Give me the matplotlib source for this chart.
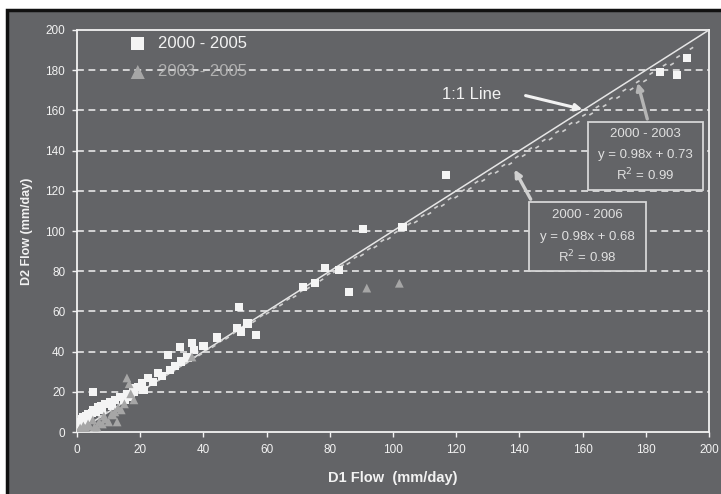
import matplotlib
matplotlib.use("Agg")
import matplotlib.pyplot as plt
from matplotlib.patches import Rectangle
import numpy as np

plt.rcParams['font.family'] = ['Liberation Sans', 'DejaVu Sans']

# ---- data ----
sq_x = [0.3, 0.5, 0.8, 1.2, 1.5, 2.0, 2.5, 3.0, 3.5, 4.0, 4.7, 5.0, 5.1, 6.0, 6.6, 7.5, 8.0, 9.0,
        10.4, 11.0, 12.0, 13.6, 15.0, 16.0, 17.0, 17.7, 18.0, 19.3, 20.6, 21.0, 22.5, 24.0, 25.6,
        27.0, 28.8, 29.5, 31.0, 32.6, 33.0, 35.0, 36.4, 37.0, 40.0, 44.3, 50.6, 51.3, 52.0, 54.0,
        56.6, 71.5, 75.3, 78.5, 83.0, 86.0, 90.5, 103.0, 116.8, 184.5, 189.8, 193.0]
sq_y = [1.0, 3.0, 5.0, 4.0, 6.5, 7.5, 5.0, 8.0, 9.0, 7.0, 9.5, 11.0, 19.9, 10.0, 12.4, 13.0, 11.0, 14.0,
        14.9, 13.0, 16.0, 17.4, 16.0, 19.0, 17.5, 21.9, 20.0, 22.4, 24.4, 21.0, 26.9, 25.0, 29.4,
        28.0, 38.3, 31.0, 33.0, 42.4, 35.0, 37.0, 44.2, 40.8, 42.8, 47.0, 51.7, 62.2, 50.0, 54.0,
        48.3, 72.0, 74.0, 81.6, 80.6, 69.7, 101.0, 102.0, 127.9, 179.0, 177.6, 186.0]

tri_x = [0.5, 1.0, 1.5, 2.0, 2.5, 3.0, 3.5, 4.0, 5.0, 5.5, 6.3, 7.0, 8.0, 8.5, 9.0, 10.0, 11.0,
         11.4, 12.0, 12.7, 13.0, 14.0, 15.0, 15.8, 16.5, 17.0, 18.0, 36.4, 91.7, 102.0]
tri_y = [0.5, 2.0, 1.0, 3.0, 2.0, 1.5, 4.0, 3.0, 6.0, 2.5, 2.5, 5.0, 4.0, 8.0, 6.5, 5.0, 9.0,
         8.5, 10.0, 5.0, 12.0, 11.0, 14.0, 26.9, 24.0, 19.0, 16.0, 37.3, 71.6, 74.0]

# trend line coefficients (slope, intercept)
fit1 = (0.968, 0.73)   # 2000 - 2003
fit2 = (0.978, 0.68)   # 2000 - 2006

x_ticks = [0, 20, 40, 60, 80, 100, 120, 140, 160, 180, 200]
y_ticks = [0, 20, 40, 60, 80, 100, 120, 140, 160, 180, 200]

BG = '#636467'
FG = '#f2f2f2'

fig = plt.figure(figsize=(7.21, 4.94), dpi=100)
fig.patch.set_facecolor('white')
frame = Rectangle((7 / 721, -0.05), 1.1, 484 / 494 + 0.05, transform=fig.transFigure,
                  facecolor=BG, edgecolor='#111111', lw=2.5, zorder=0)
fig.add_artist(frame)

ax = fig.add_axes([77 / 721, 1 - 432 / 494, 632 / 721, 402 / 494])
ax.set_facecolor(BG)
ax.set_xlim(0, 200)
ax.set_ylim(0, 200)
ax.set_xticks(x_ticks)
ax.set_yticks(y_ticks)

for s in ax.spines.values():
    s.set_color(FG)
    s.set_linewidth(1.3)

ax.tick_params(colors=FG, labelcolor=FG, labelsize=8.5, direction='out', length=3.5, width=1.0, pad=5)
for y in y_ticks[1:-1]:
    ax.axhline(y, color=FG, lw=1.1, linestyle=(0, (4.5, 3.0)), zorder=1)

ax.set_xlabel('D1 Flow  (mm/day)', color=FG, fontsize=10.5, fontweight='bold', labelpad=11)
ax.set_ylabel('D2 Flow (mm/day)', color=FG, fontsize=9, fontweight='bold', labelpad=9)

# 1:1 line
ax.plot([0, 200], [0, 200], color='#e6e6e6', lw=1.1, zorder=3)
# trend lines
xx = np.array([0, 195])
ax.plot(xx, fit1[0] * xx + fit1[1], color='#cfcfcf', lw=1.2, linestyle=(0, (2.5, 7)), zorder=3)
ax.plot(xx, fit2[0] * xx + fit2[1], color='#cfcfcf', lw=1.2, linestyle=(4, (2.5, 7)), zorder=3)

ax.scatter(sq_x, sq_y, marker='s', s=36, color='#f4f4f4', edgecolors='none', zorder=4, label='2000 - 2005')
ax.scatter(tri_x, tri_y, marker='^', s=40, color='#a6a6a6', edgecolors='none', zorder=5, label='2003 - 2005')

leg = ax.legend(loc='upper left', bbox_to_anchor=(0.083, 0.985), frameon=False, fontsize=12,
                handlelength=1.0, handletextpad=0.7, labelspacing=0.8, borderpad=0,
                borderaxespad=0, markerscale=1.6)
leg.get_texts()[0].set_color(FG)
leg.get_texts()[1].set_color('#b0b0b0')

# 1:1 label
ax.text(115.5, 167.7, '1:1 Line', color=FG, fontsize=12, va='center', ha='left')
ax.annotate('', xy=(160.8, 160.2), xytext=(141.1, 167.7),
            arrowprops=dict(arrowstyle='-|>', color=FG, lw=2.2, mutation_scale=10), zorder=6)

# box 1
ax.add_patch(Rectangle((161.7, 120.4), 36.4, 33.8, facecolor=BG, edgecolor='#d6d6d6', lw=1.3, zorder=6))
for yy, t in zip([148.3, 137.8, 127.9], ['2000 - 2003', 'y = 0.98x + 0.73', 'R$^2$ = 0.99']):
    ax.text(179.9, yy, t, color='#e0e0e0', fontsize=9.5, ha='center', va='center', zorder=7)
ax.annotate('', xy=(177.2, 175.1), xytext=(180.7, 154.4),
            arrowprops=dict(arrowstyle='-|>', color='#b5b5b5', lw=2.4, mutation_scale=10), zorder=6)

# box 2
ax.add_patch(Rectangle((143.0, 80.1), 37.0, 34.3, facecolor=BG, edgecolor='#d6d6d6', lw=1.3, zorder=6))
for yy, t in zip([108.0, 97.0, 87.0], ['2000 - 2006', 'y = 0.98x + 0.68', 'R$^2$ = 0.98']):
    ax.text(161.5, yy, t, color='#e0e0e0', fontsize=9.5, ha='center', va='center', zorder=7)
ax.annotate('', xy=(138.0, 131.8), xytext=(144.0, 114.6),
            arrowprops=dict(arrowstyle='-|>', color='#d0d0d0', lw=2.4, mutation_scale=10), zorder=6)

fig.savefig('out.png', dpi=100, facecolor=fig.get_facecolor())
